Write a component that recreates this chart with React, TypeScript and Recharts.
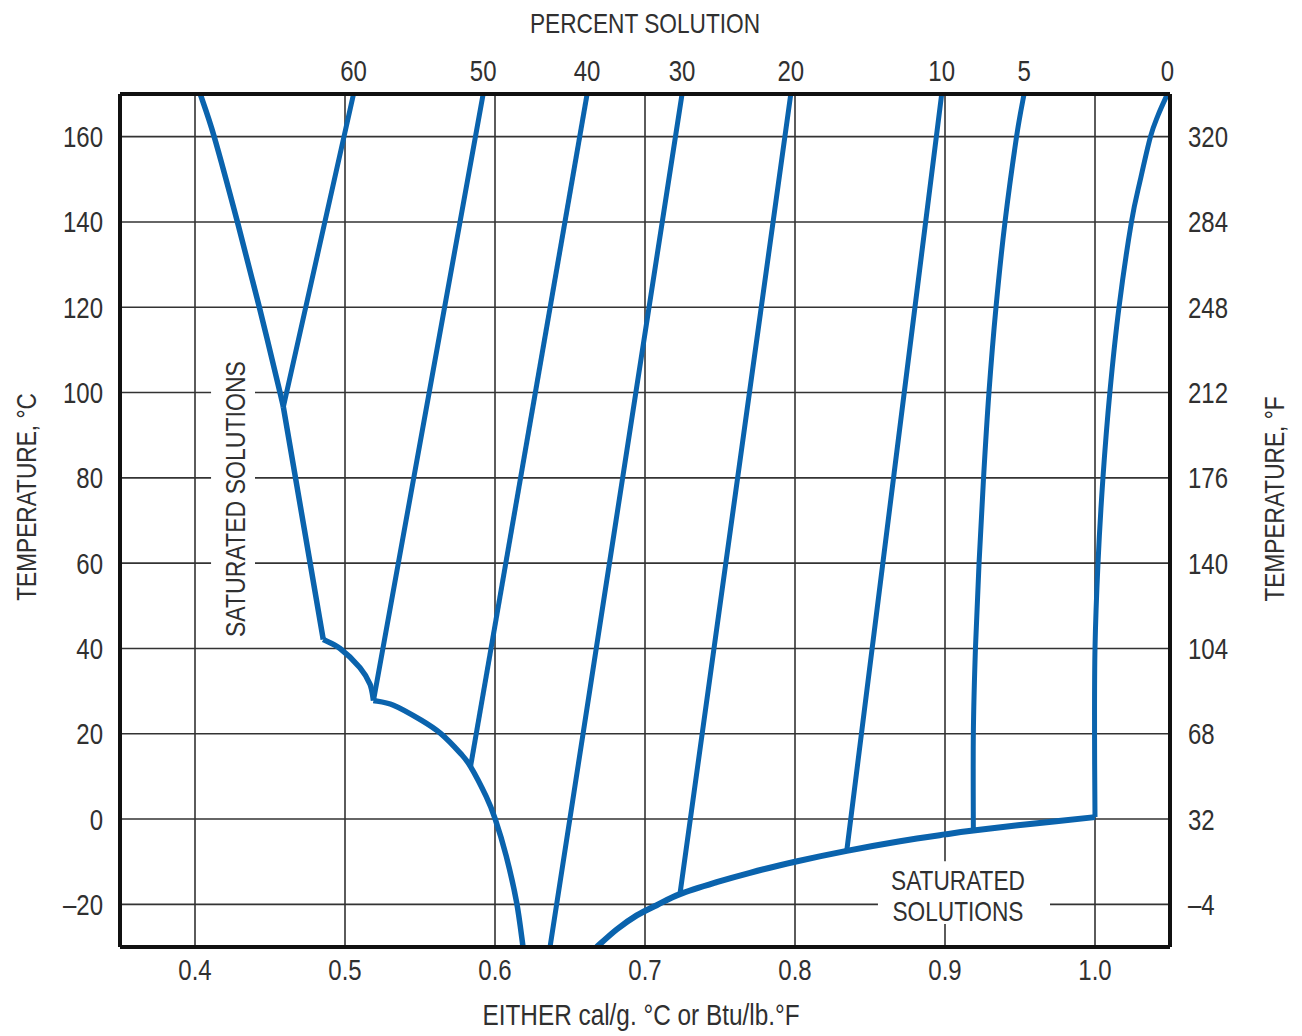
import React from "react";
import { ComposedChart, Line, XAxis, YAxis, CartesianGrid, ReferenceArea } from "recharts";

// ---- data ----
const xTicks = [0.4, 0.5, 0.6, 0.7, 0.8, 0.9, 1.0];
const yTicksC = [-20, 0, 20, 40, 60, 80, 100, 120, 140, 160];
const yTicksF = ["–4", "32", "68", "104", "140", "176", "212", "248", "284", "320"];
const percentLabels = ["60", "50", "40", "30", "20", "10", "5", "0"];

const pct60 = [{ x: 0.4589, y: 96.6 }, { x: 0.5057, y: 170 }];
const pct50 = [{ x: 0.519, y: 27.8 }, { x: 0.5921, y: 170 }];
const pct40 = [{ x: 0.5837, y: 12.3 }, { x: 0.6614, y: 170 }];
const pct30 = [{ x: 0.6367, y: -30 }, { x: 0.7247, y: 170 }];
const pct20 = [{ x: 0.7233, y: -17.6 }, { x: 0.7972, y: 170 }];
const pct10 = [{ x: 0.8345, y: -7.45 }, { x: 0.8978, y: 170 }];
const pct5 = [
  { x: 0.9189, y: -2.7 }, { x: 0.9189, y: 20 }, { x: 0.9203, y: 40 }, { x: 0.9227, y: 60 },
  { x: 0.9257, y: 80 }, { x: 0.9293, y: 100 }, { x: 0.934, y: 120 }, { x: 0.94, y: 140 },
  { x: 0.9477, y: 160 }, { x: 0.9527, y: 170 },
];
const pct0 = [
  { x: 1.0, y: 0.45 }, { x: 0.9997, y: 20 }, { x: 1.0, y: 40 }, { x: 1.002, y: 60 },
  { x: 1.0053, y: 80 }, { x: 1.0099, y: 100 }, { x: 1.016, y: 120 }, { x: 1.0243, y: 140 },
  { x: 1.0303, y: 150 }, { x: 1.037, y: 160 }, { x: 1.042, y: 165 }, { x: 1.0483, y: 170 },
];

// saturation boundary segments
const satTop = [
  { x: 0.4589, y: 96.6 }, { x: 0.4567, y: 100 }, { x: 0.4429, y: 120 }, { x: 0.4283, y: 140 },
  { x: 0.4128, y: 160 }, { x: 0.4035, y: 170 },
];
const satStraight = [{ x: 0.4855, y: 42.1 }, { x: 0.4589, y: 96.6 }];
const satCusp = [
  { x: 0.519, y: 27.8 }, { x: 0.5167, y: 31.6 }, { x: 0.51, y: 35.5 }, { x: 0.4967, y: 40 },
  { x: 0.4855, y: 42.1 },
];
const satLeftLow = [
  { x: 0.6187, y: -30 }, { x: 0.6144, y: -19.5 }, { x: 0.6075, y: -8.7 }, { x: 0.6001, y: 0.05 },
  { x: 0.5941, y: 5.3 }, { x: 0.5837, y: 12.3 }, { x: 0.577, y: 15.4 }, { x: 0.5637, y: 20.1 },
  { x: 0.5508, y: 23.2 }, { x: 0.5323, y: 26.7 }, { x: 0.519, y: 27.8 },
];
const satRightLow = [
  { x: 0.6678, y: -30 }, { x: 0.6811, y: -25.9 }, { x: 0.6945, y: -22.6 }, { x: 0.7078, y: -20.2 },
  { x: 0.7233, y: -17.6 }, { x: 0.7478, y: -14.8 }, { x: 0.77, y: -12.6 }, { x: 0.8, y: -10.0 },
  { x: 0.8345, y: -7.45 }, { x: 0.87, y: -5.2 }, { x: 0.9, y: -3.6 }, { x: 0.9189, y: -2.7 },
  { x: 0.9567, y: -1.15 }, { x: 1.0, y: 0.45 },
];

const percentSeries = [pct60, pct50, pct40, pct30, pct20, pct10, pct5, pct0];
const topTicks = percentSeries.map((s) => s[s.length - 1].x);

// ---- style ----
const FONT = "'Liberation Sans', Arial, sans-serif";
const BLUE = "#0a63ad";
const INK = "#303030";
const W = 1286;
const H = 1028;
const frame = { stroke: "#111", strokeWidth: 4 };

// Catmull-Rom curve factory (smooth line through points, any direction)
const catmull: any = (context: any) => {
  let pts: number[][] = [];
  return {
    areaStart() {},
    areaEnd() {},
    lineStart() {
      pts = [];
    },
    lineEnd() {
      const n = pts.length;
      if (!n) return;
      context.moveTo(pts[0][0], pts[0][1]);
      for (let i = 0; i < n - 1; i++) {
        const p0 = pts[i === 0 ? 0 : i - 1];
        const p1 = pts[i];
        const p2 = pts[i + 1];
        const p3 = pts[i + 2 < n ? i + 2 : n - 1];
        context.bezierCurveTo(
          p1[0] + (p2[0] - p0[0]) / 6,
          p1[1] + (p2[1] - p0[1]) / 6,
          p2[0] - (p3[0] - p1[0]) / 6,
          p2[1] - (p3[1] - p1[1]) / 6,
          p2[0],
          p2[1]
        );
      }
    },
    point(x: number, y: number) {
      pts.push([+x, +y]);
    },
  };
};

const NText = ({ x, y, anchor = "middle", size = 28, sx = 0.81, rot = false, children }: any) => (
  <text
    transform={`translate(${x},${y})${rot ? " rotate(-90)" : ""} scale(${sx},1)`}
    textAnchor={anchor}
    fontSize={size}
    fontFamily={FONT}
    fill={INK}
  >
    {children}
  </text>
);

const fmtC = (v: number) => (v < 0 ? "–" + Math.abs(v) : String(v));

const BottomTick = (p: any) => (
  <NText x={p.x} y={p.y + 33} size={30} sx={0.8}>
    {Number(p.payload.value).toFixed(1)}
  </NText>
);
const TopTick = (p: any) => (
  <NText x={p.x} y={p.y - 13} size={30} sx={0.8}>
    {percentLabels[p.index]}
  </NText>
);
const LeftTick = (p: any) => (
  <NText x={p.x - 17} y={p.y + 10.5} size={30} sx={0.8} anchor="end">
    {fmtC(p.payload.value)}
  </NText>
);
const RightTick = (p: any) => (
  <NText x={p.x + 18} y={p.y + 10.5} size={30} sx={0.8} anchor="start">
    {yTicksF[p.index]}
  </NText>
);

const lineProps = {
  xAxisId: "b",
  yAxisId: "c",
  dataKey: "y",
  type: catmull,
  stroke: BLUE,
  dot: false,
  activeDot: false,
  isAnimationActive: false,
} as any;

export default function App() {
  return (
    <ComposedChart width={W} height={H} margin={{ top: 46, right: 64, bottom: 49, left: 52 }}>
      <CartesianGrid xAxisId="b" yAxisId="c" stroke="#333" strokeWidth={1.6} />
      <XAxis
        xAxisId="b"
        dataKey="x"
        type="number"
        orientation="bottom"
        domain={[0.35, 1.05]}
        ticks={xTicks}
        interval={0}
        allowDataOverflow
        height={40}
        tickSize={0}
        tickMargin={0}
        tickLine={false}
        axisLine={frame}
        tick={BottomTick}
        label={() => (
          <NText x={633} y={1017} size={29} sx={0.84}>
            EITHER cal/g. °C or Btu/lb.°F
          </NText>
        )}
      />
      <XAxis
        xAxisId="t"
        dataKey="x"
        type="number"
        orientation="top"
        domain={[0.35, 1.05]}
        ticks={topTicks}
        interval={0}
        allowDataOverflow
        height={40}
        tickSize={0}
        tickMargin={0}
        tickLine={false}
        axisLine={frame}
        tick={TopTick}
        label={() => (
          <NText x={637} y={25} size={28} sx={0.81}>
            PERCENT SOLUTION
          </NText>
        )}
      />
      <YAxis
        yAxisId="c"
        type="number"
        orientation="left"
        domain={[-30, 170]}
        ticks={yTicksC}
        interval={0}
        allowDataOverflow
        width={60}
        tickSize={0}
        tickMargin={0}
        tickLine={false}
        axisLine={frame}
        tick={LeftTick}
        label={() => (
          <NText x={28} y={489} size={28} sx={0.81} rot>
            TEMPERATURE, °C
          </NText>
        )}
      />
      <YAxis
        yAxisId="f"
        type="number"
        orientation="right"
        domain={[-30, 170]}
        ticks={yTicksC}
        interval={0}
        allowDataOverflow
        width={60}
        tickSize={0}
        tickMargin={0}
        tickLine={false}
        axisLine={frame}
        tick={RightTick}
        label={() => (
          <NText x={1276} y={491} size={28} sx={0.81} rot>
            TEMPERATURE, °F
          </NText>
        )}
      />
      <ReferenceArea
        xAxisId="b"
        yAxisId="c"
        x1={0.4107}
        x2={0.44}
        y1={42}
        y2={109}
        fill="#ffffff"
        fillOpacity={1}
        stroke="none"
        ifOverflow="visible"
        label={(p: any) => {
          const vb = p.viewBox || {};
          const cx = vb.x + vb.width / 2;
          const cy = vb.y + vb.height / 2;
          return (
            <NText x={cx + 12} y={cy + 2} size={28.5} sx={0.81} rot>
              SATURATED SOLUTIONS
            </NText>
          );
        }}
      />
      <ReferenceArea
        xAxisId="b"
        yAxisId="c"
        x1={0.8553}
        x2={0.97}
        y1={-24.6}
        y2={-9.9}
        fill="#ffffff"
        fillOpacity={1}
        stroke="none"
        ifOverflow="visible"
        label={(p: any) => {
          const vb = p.viewBox || {};
          const cx = vb.x + vb.width / 2;
          const cy = vb.y + vb.height / 2;
          return (
            <g>
              <NText x={cx - 6} y={cy - 2.5} size={28} sx={0.81}>
                SATURATED
              </NText>
              <NText x={cx - 6} y={cy + 28.5} size={28} sx={0.81}>
                SOLUTIONS
              </NText>
            </g>
          );
        }}
      />
      {percentSeries.map((d, i) => (
        <Line key={"p" + i} {...lineProps} data={d} strokeWidth={5} />
      ))}
      {[satTop, satStraight, satCusp, satLeftLow].map((d, i) => (
        <Line key={"s" + i} {...lineProps} data={d} strokeWidth={5.5} />
      ))}
      <Line {...lineProps} data={satRightLow} strokeWidth={6} />
    </ComposedChart>
  );
}
